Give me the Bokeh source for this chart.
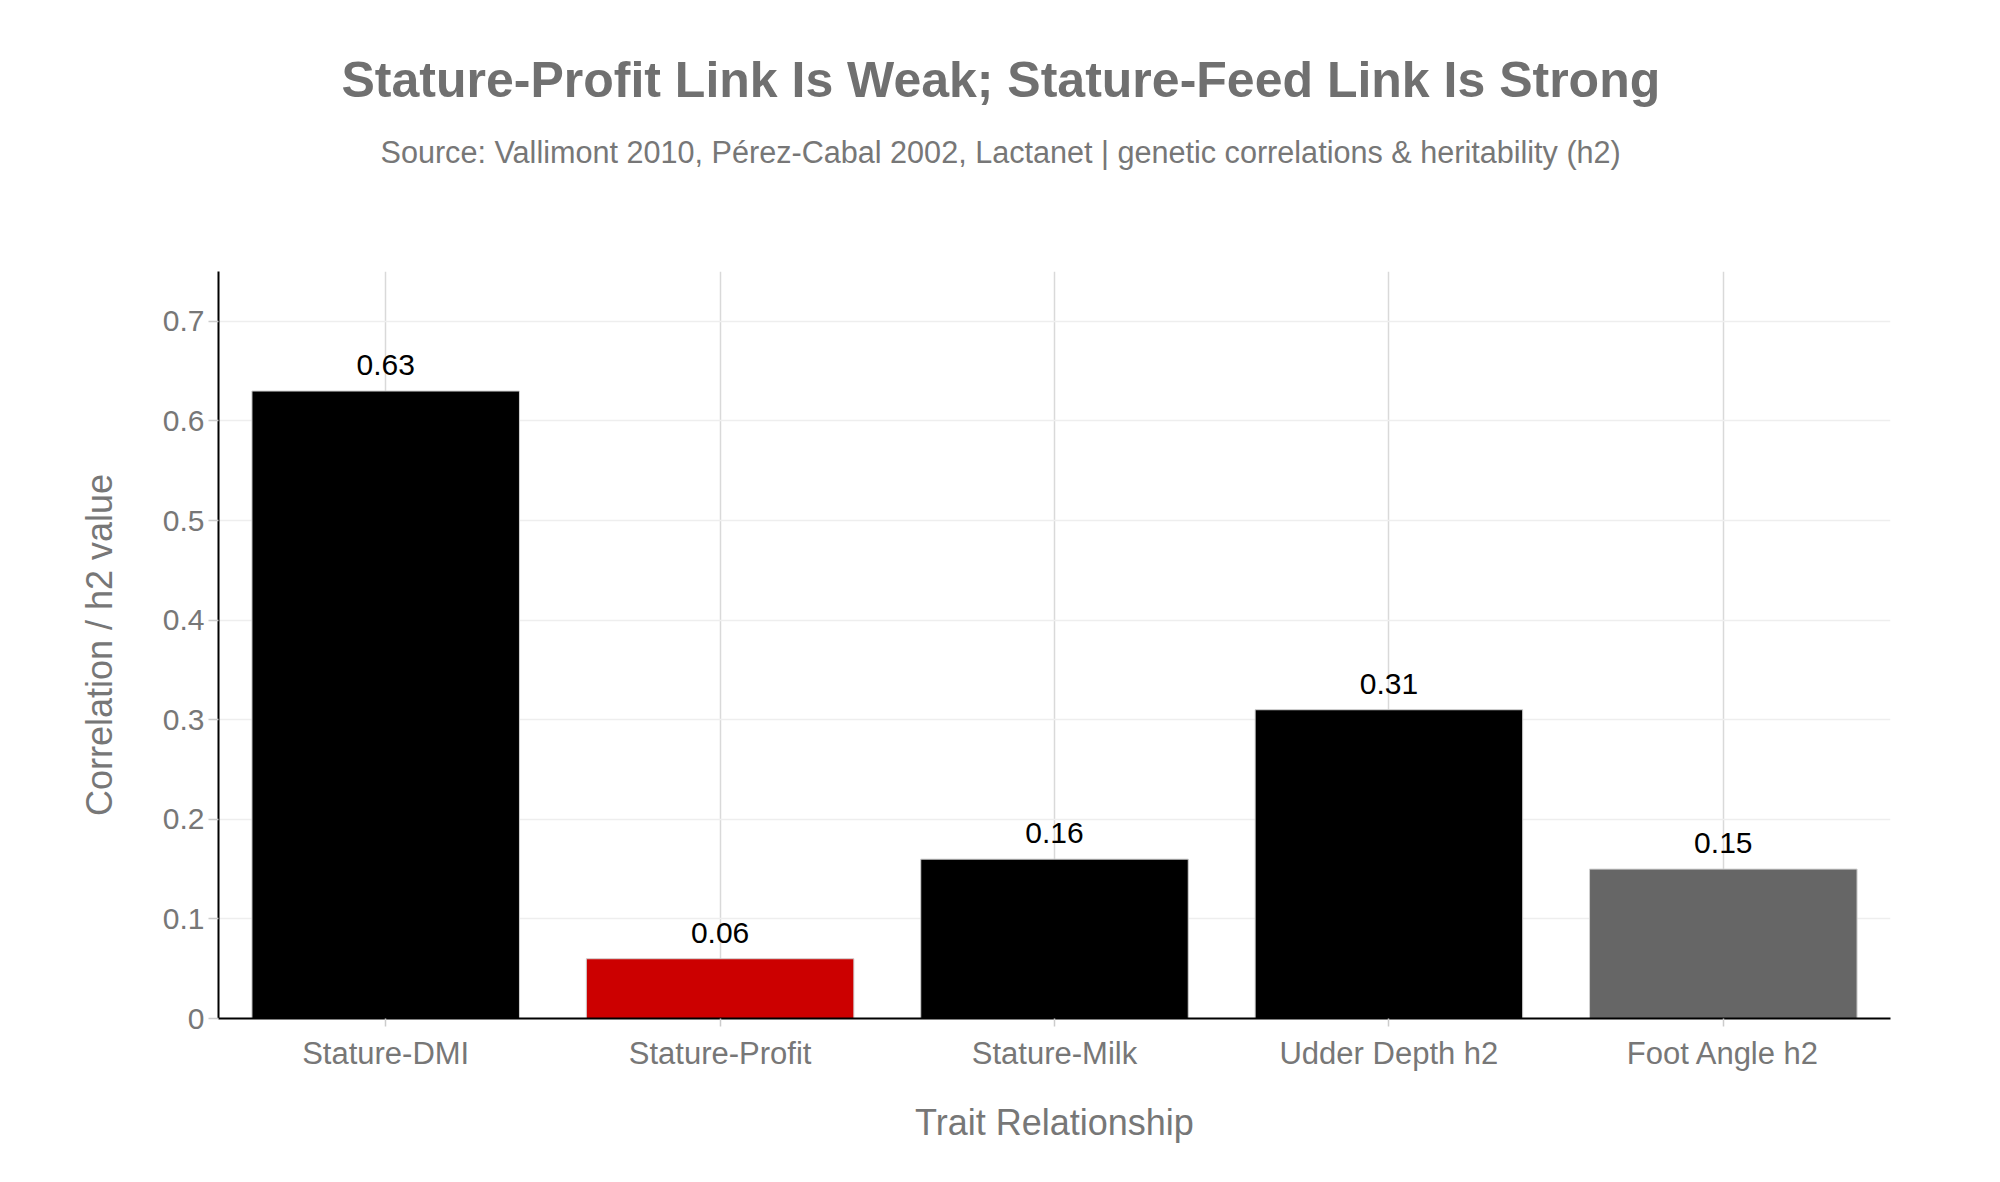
from bokeh.plotting import figure
from bokeh.models import ColumnDataSource, Title, FixedTicker, NumeralTickFormatter
from bokeh.embed import file_html
from bokeh.resources import INLINE
from bokeh.core.properties import value

# ---- data ----
categories = ["Stature-DMI", "Stature-Profit", "Stature-Milk", "Udder Depth h2", "Foot Angle h2"]
values = [0.63, 0.06, 0.16, 0.31, 0.15]
value_labels = ["0.63", "0.06", "0.16", "0.31", "0.15"]
bar_colors = ["#000000", "#CC0000", "#000000", "#000000", "#666666"]
y_ticks = [0, 0.1, 0.2, 0.3, 0.4, 0.5, 0.6, 0.7]
title_text = "Stature-Profit Link Is Weak; Stature-Feed Link Is Strong"
subtitle_text = "Source: Vallimont 2010, Pérez-Cabal 2002, Lactanet | genetic correlations & heritability (h2)"
x_title = "Trait Relationship"
y_title = "Correlation / h2 value"

FONT = "Liberation Sans"
GREY = "#777777"

W, H = 1984, 1166
BL, BR, BT, BB = 218, 94, 271, 148

src = ColumnDataSource(dict(cat=categories, val=values, lbl=value_labels, color=bar_colors))

p = figure(x_range=categories, y_range=(0, 0.75), width=W, height=H, title=None,
           output_backend="svg", toolbar_location=None,
           min_border_left=BL, min_border_right=BR, min_border_top=BT, min_border_bottom=BB)
p.outline_line_color = None
p.background_fill_color = "white"
p.border_fill_color = "white"

p.vbar(x="cat", top="val", width=0.8, source=src, fill_color="color",
       line_color="#d0d0d0", line_width=1)

p.text(x="cat", y="val", text="lbl", source=src, text_align="center",
       text_baseline="alphabetic", y_offset=-26, text_color="#000000",
       text_font=value(FONT), text_font_size="30px")

# grids
p.xgrid.grid_line_color = "#d9d9d9"
p.xgrid.grid_line_width = 1.5
p.ygrid.grid_line_color = "#eeeeee"
p.ygrid.grid_line_width = 1.5

# y axis
p.yaxis.ticker = FixedTicker(ticks=y_ticks)
p.yaxis.formatter = NumeralTickFormatter(format="0.[0]")
p.yaxis.axis_line_color = "#000000"
p.yaxis.axis_line_width = 2
p.yaxis.major_tick_line_color = "#cccccc"
p.yaxis.major_tick_line_width = 1.5
p.yaxis.major_tick_out = 10
p.yaxis.major_tick_in = 0
p.yaxis.minor_tick_line_color = None
p.yaxis.major_label_standoff = 4
p.yaxis.major_label_text_font = FONT
p.yaxis.major_label_text_font_size = "30px"
p.yaxis.major_label_text_color = GREY
p.yaxis.axis_label = y_title
p.yaxis.axis_label_text_font = FONT
p.yaxis.axis_label_text_font_size = "36px"
p.yaxis.axis_label_text_font_style = "normal"
p.yaxis.axis_label_text_color = GREY
p.yaxis.axis_label_standoff = 40

# x axis
p.xaxis.axis_line_color = "#000000"
p.xaxis.axis_line_width = 2
p.xaxis.major_tick_line_color = "#cccccc"
p.xaxis.major_tick_line_width = 1.5
p.xaxis.major_tick_out = 8
p.xaxis.major_tick_in = 0
p.xaxis.major_label_standoff = 9
p.xaxis.major_label_text_font = FONT
p.xaxis.major_label_text_font_size = "31px"
p.xaxis.major_label_text_color = GREY
p.xaxis.axis_label = x_title
p.xaxis.axis_label_text_font = FONT
p.xaxis.axis_label_text_font_size = "36px"
p.xaxis.axis_label_text_font_style = "normal"
p.xaxis.axis_label_text_color = GREY
p.xaxis.axis_label_standoff = 28

# titles: subtitle nearest the frame, main title above it
p.add_layout(Title(text=subtitle_text, align="left", offset=162, text_font=FONT,
                   text_font_size="30.6px", text_font_style="normal",
                   text_color=GREY, standoff=205), "above")
p.add_layout(Title(text=title_text, align="left", offset=123, text_font=FONT,
                   text_font_size="50px", text_font_style="bold",
                   text_color="#707070", standoff=-154), "above")

open("out.html", "w").write(file_html(p, INLINE))
